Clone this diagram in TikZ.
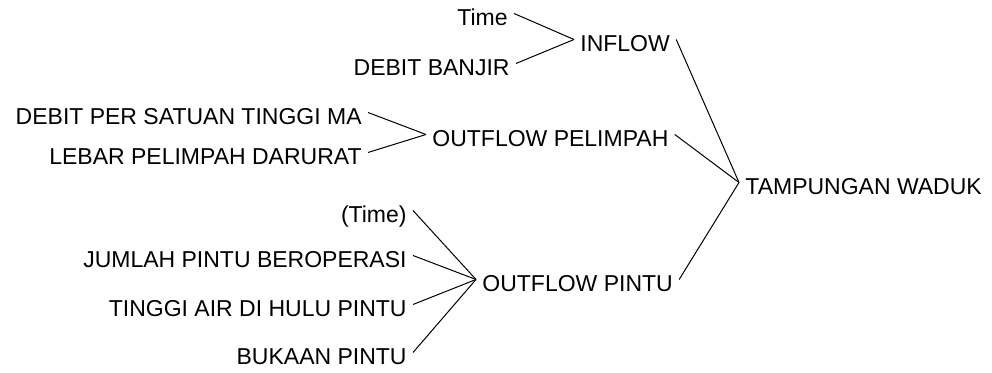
\documentclass[tikz,border=0pt]{standalone}
\usepackage{fontspec}
\setmainfont{Liberation Sans}
\usepackage{tikz}

\tikzset{
var/.style={inner xsep=3pt, inner ysep=0pt, text height=12.5pt, text depth=0pt,
	font=\fontsize{11.5}{13}\selectfont},
cause/.style={var, anchor=base east},
effect/.style={var, anchor=base west},
link/.style={line width=0.5pt}
}

\begin{document}
\begin{tikzpicture}[x=0.5pt,y=-0.5pt]

\useasboundingbox (0,0) rectangle (992,373);

% target
\node[effect] (waduk) at (739,195) {TAMPUNGAN WADUK};

% first level
\node[effect] (inflow) at (574,52) {INFLOW};
\node[effect] (pelimpah) at (426,147) {OUTFLOW PELIMPAH};
\node[effect] (pintu) at (476,292) {OUTFLOW PINTU};

% causes of inflow
\node[cause] (time) at (514,26) {Time};
\node[cause] (banjir) at (516,76) {DEBIT BANJIR};

% causes of outflow pelimpah
\node[cause] (debitma) at (368,125) {DEBIT PER SATUAN TINGGI MA};
\node[cause] (lebar) at (368,165) {LEBAR PELIMPAH DARURAT};

% causes of outflow pintu
\node[cause] (timeb) at (413,223) {(Time)};
\node[cause] (jumlah) at (413,268) {JUMLAH PINTU BEROPERASI};
\node[cause] (tinggi) at (413,317) {TINGGI AIR DI HULU PINTU};
\node[cause] (bukaan) at (413,365) {BUKAAN PINTU};

\draw[link] (time.east) -- (inflow.west);
\draw[link] (banjir.east) -- (inflow.west);

\draw[link] (debitma.east) -- (pelimpah.west);
\draw[link] (lebar.east) -- (pelimpah.west);

\draw[link] (timeb.east) -- (pintu.west);
\draw[link] (jumlah.east) -- (pintu.west);
\draw[link] (tinggi.east) -- (pintu.west);
\draw[link] (bukaan.east) -- (pintu.west);

\draw[link] (inflow.east) -- (waduk.west);
\draw[link] (pelimpah.east) -- (waduk.west);
\draw[link] (pintu.east) -- (waduk.west);

\end{tikzpicture}
\end{document}
